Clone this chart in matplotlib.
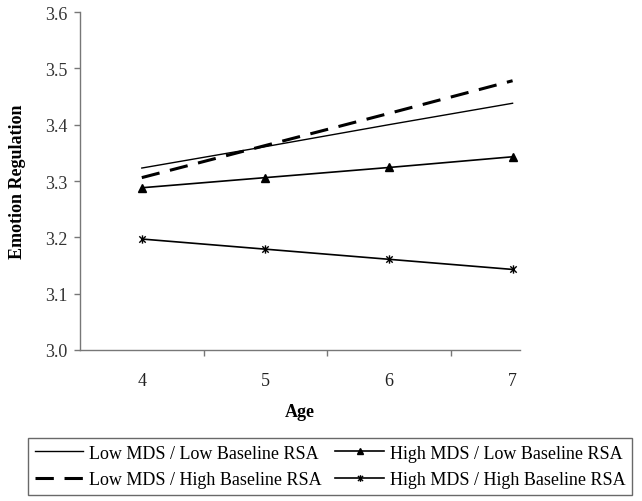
import matplotlib
matplotlib.use("Agg")
import matplotlib.pyplot as plt
from matplotlib.path import Path

ages = [4, 5, 6, 7]
low_mds_low_rsa = [3.323, 3.361, 3.400, 3.438]
low_mds_high_rsa = [3.306, 3.363, 3.420, 3.478]
high_mds_low_rsa = [3.288, 3.306, 3.324, 3.343]
high_mds_high_rsa = [3.197, 3.179, 3.161, 3.143]
y_ticks = [3.0, 3.1, 3.2, 3.3, 3.4, 3.5, 3.6]

plt.rcParams['font.family'] = ['Liberation Serif', 'DejaVu Serif']

star = Path([(-1, -1), (1, 1), (-1, 1), (1, -1), (0, -1.3), (0, 1.3)],
            [Path.MOVETO, Path.LINETO, Path.MOVETO, Path.LINETO, Path.MOVETO, Path.LINETO])

fig = plt.figure(figsize=(6.42, 5.02), dpi=100)
ax = fig.add_axes([80/642, 1-351/502, 440/642, (351-13)/502])

h1, = ax.plot(ages, low_mds_low_rsa, color='black', lw=1.0, label='Low MDS / Low Baseline RSA')
h3, = ax.plot(ages, high_mds_low_rsa, color='black', lw=1.2, marker='^', ms=6,
              label='High MDS / Low Baseline RSA')
h2, = ax.plot(ages, low_mds_high_rsa, color='black', lw=2.2, dashes=(6, 3.5),
              label='Low MDS / High Baseline RSA')
h4, = ax.plot(ages, high_mds_high_rsa, color='black', lw=1.2, marker=star, ms=6,
              mfc='none', mew=1.0, label='High MDS / High Baseline RSA')

ax.set_xlim(3.5, 7.06)
ax.set_ylim(3.0, 3.6)
ax.set_yticks(y_ticks)
ax.set_yticklabels([f"{v:.1f}" for v in y_ticks])
ax.set_xticks(ages)
ax.set_xticks([4.5, 5.5, 6.5], minor=True)

for s in ['top', 'right']:
    ax.spines[s].set_visible(False)
for s in ['left', 'bottom']:
    ax.spines[s].set_color('#777777')
    ax.spines[s].set_linewidth(1.0)

ax.tick_params(axis='y', direction='out', length=4, width=1, color='#777777',
               labelsize=13, pad=5, labelcolor='#333333')
ax.tick_params(axis='x', which='major', length=0, labelsize=13, pad=16, labelcolor='#222222')
ax.tick_params(axis='x', which='minor', direction='out', length=4, width=1, color='#777777')

ax.set_ylabel('Emotion Regulation', fontsize=13, fontweight='bold', labelpad=14)
ax.set_xlabel('Age', fontsize=13, fontweight='bold', labelpad=10)

leg = fig.legend(handles=[h1, h2, h3, h4], loc='lower left',
                 bbox_to_anchor=(28/642, 6/502), ncol=2, frameon=True, fancybox=False,
                 fontsize=13, handlelength=2.7, handletextpad=0.33, markerscale=0.8,
                 borderaxespad=0, labelspacing=0.55, columnspacing=0.75, borderpad=0.36)
leg.get_frame().set_edgecolor('#444444')
leg.get_frame().set_linewidth(1.0)

fig.savefig('out.png', dpi=100)
